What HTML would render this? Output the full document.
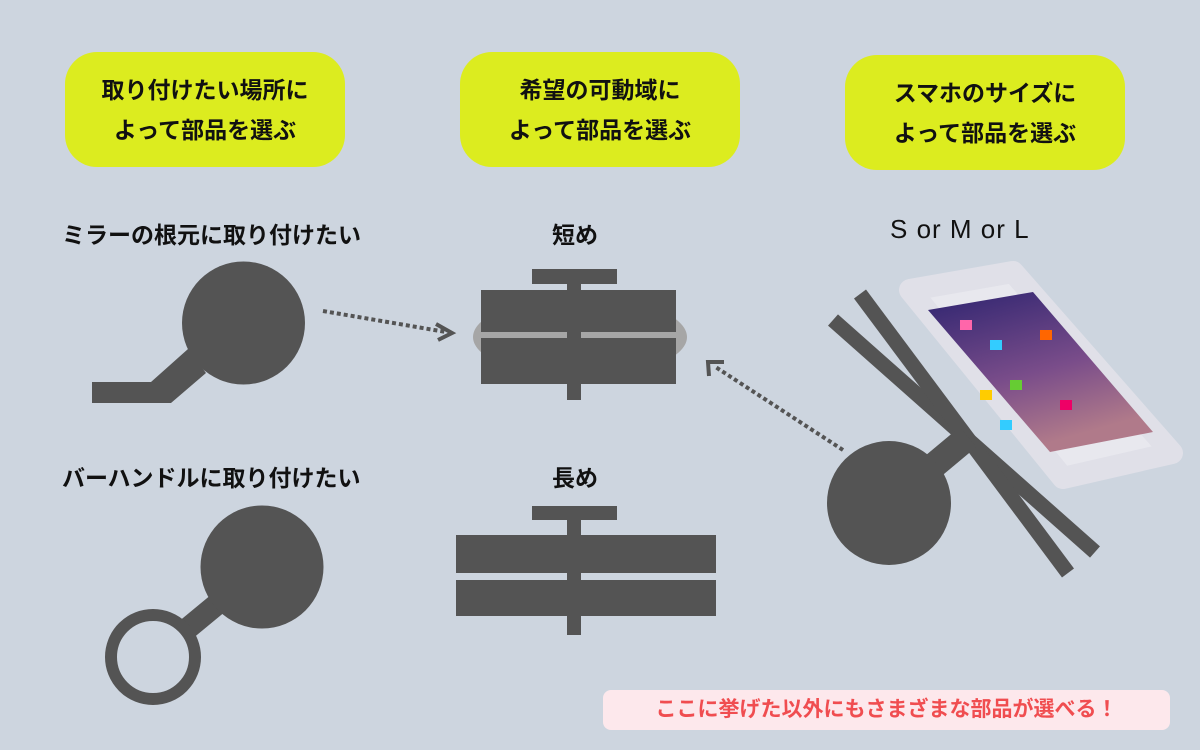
<!DOCTYPE html>
<html><head><meta charset="utf-8"><style>
body{margin:0;width:1200px;height:750px;background:#cdd5df;overflow:hidden;font-family:"Liberation Sans","Noto Sans CJK JP",sans-serif}
.b{position:absolute;background:#dcec1f;border-radius:32px;display:flex;align-items:center;justify-content:center;text-align:center;font-weight:bold;font-size:23px;line-height:40px;color:#111}
.t{position:absolute;font-weight:bold;font-size:23px;color:#111;white-space:nowrap}
</style></head><body>
<div class="b" style="left:65px;top:52px;width:280px;height:115px">取り付けたい場所に<br>よって部品を選ぶ</div>
<div class="b" style="left:460px;top:52px;width:280px;height:115px">希望の可動域に<br>よって部品を選ぶ</div>
<div class="b" style="left:845px;top:55px;width:280px;height:115px">スマホのサイズに<br>よって部品を選ぶ</div>
<div class="t" style="left:62px;top:216px">ミラーの根元に取り付けたい</div>
<div class="t" style="left:62px;top:459px">バーハンドルに取り付けたい</div>
<div class="t" style="left:552px;top:216px">短め</div>
<div class="t" style="left:552px;top:459px">長め</div>
<div class="t" style="left:890px;top:214px;font-weight:normal;font-size:26px;letter-spacing:1px">S or M or L</div>
<svg width="1200" height="750" style="position:absolute;left:0;top:0">
<defs><linearGradient id="g" x1="0" y1="0" x2="0.4" y2="1"><stop offset="0" stop-color="#2e2470"/><stop offset="0.6" stop-color="#7a4d8a"/><stop offset="1" stop-color="#b07a8a"/></linearGradient></defs>
<circle cx="243.5" cy="323" r="61.5" fill="#545454"/>
<polygon points="92,382 151,382 188,349 206,373 171,403 92,403" fill="#545454"/>
<line x1="153" y1="657" x2="262" y2="567" stroke="#545454" stroke-width="22"/>
<circle cx="262" cy="567" r="61.5" fill="#545454"/>
<circle cx="153" cy="657" r="42" fill="#cdd5df" stroke="#545454" stroke-width="12"/>
<line x1="323" y1="311" x2="446" y2="332" stroke="#545454" stroke-width="4" stroke-dasharray="4,3"/>
<polyline points="436,324 452,333 438,340" fill="none" stroke="#545454" stroke-width="4"/>
<ellipse cx="580" cy="337" rx="107" ry="40" fill="#a6a6a6"/>
<rect x="481" y="290" width="195" height="42" fill="#545454"/>
<rect x="481" y="338" width="195" height="46" fill="#545454"/>
<rect x="532" y="269" width="85" height="15" fill="#545454"/>
<rect x="567" y="284" width="14" height="116" fill="#545454"/>
<rect x="532" y="506" width="85" height="14" fill="#545454"/>
<rect x="567" y="520" width="14" height="115" fill="#545454"/>
<rect x="456" y="535" width="260" height="38" fill="#545454"/>
<rect x="456" y="580" width="260" height="36" fill="#545454"/>
<line x1="843" y1="450" x2="714" y2="366" stroke="#545454" stroke-width="4" stroke-dasharray="4,3"/>
<polyline points="709,376 708,362 724,362" fill="none" stroke="#545454" stroke-width="4"/>
<polygon points="910,290 1013,272 1172,453 1063,478" fill="#e8e8ee" stroke="#e0e0e8" stroke-width="22" stroke-linejoin="round"/>
<polygon points="928,310 1033,292 1153,432 1050,452" fill="url(#g)"/>
<g fill="#3cf"><rect x="960" y="320" width="12" height="10" fill="#f6a"/><rect x="990" y="340" width="12" height="10"/><rect x="1010" y="380" width="12" height="10" fill="#6c3"/><rect x="1040" y="330" width="12" height="10" fill="#f60"/><rect x="1060" y="400" width="12" height="10" fill="#e06"/><rect x="1000" y="420" width="12" height="10" fill="#3cf"/><rect x="980" y="390" width="12" height="10" fill="#fc0"/></g>
<line x1="833" y1="320" x2="1095" y2="552" stroke="#545454" stroke-width="15"/>
<line x1="860" y1="294" x2="1068" y2="573" stroke="#545454" stroke-width="15"/>
<line x1="889" y1="503" x2="968" y2="437" stroke="#545454" stroke-width="26"/>
<circle cx="889" cy="503" r="62" fill="#545454"/>
</svg>
<div style="position:absolute;left:603px;top:690px;width:567px;height:40px;background:#fde8ec;border-radius:8px;color:#f04d50;font-weight:bold;font-size:21px;line-height:40px;text-align:center">ここに挙げた以外にもさまざまな部品が選べる！</div>
</body></html>
